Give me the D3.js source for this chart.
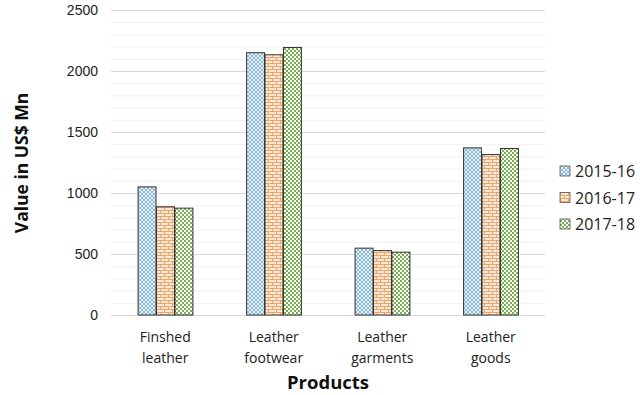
<!DOCTYPE html>
<html><head><meta charset="utf-8">
<script src="https://cdn.jsdelivr.net/npm/d3@7"></script>
<style>body{margin:0;background:#fff}svg{font-family:"Open Sans",Calibri,sans-serif}</style>
</head><body><svg id="c" width="640" height="395"></svg>
<script>
const categories = [["Finshed","leather"],["Leather","footwear"],["Leather","garments"],["Leather","goods"]];
const seriesNames = ["2015-16","2016-17","2017-18"];
const v2015 = [1050, 2150, 548, 1370];
const v2016 = [887, 2133, 528, 1315];
const v2017 = [876, 2193, 515, 1365];
const yTicks = [0,500,1000,1500,2000,2500];
const values = [v2015, v2016, v2017];

const svg = d3.select("#c");
const m = {l:111, r:545, t:10, b:315};
const x = d3.scaleBand().domain(d3.range(categories.length)).range([m.l, m.r]).paddingInner(0.49).paddingOuter(0.245);
const xs = d3.scaleBand().domain(d3.range(seriesNames.length)).range([0, x.bandwidth()]);
const y = d3.scaleLinear().domain([0,2500]).range([m.b, m.t]);

const defs = svg.append("defs");
let p = defs.append("pattern").attr("id","p0").attr("patternUnits","userSpaceOnUse").attr("width",4).attr("height",4);
p.append("rect").attr("width",4).attr("height",4).attr("fill","#e3eff6");
p.append("path").attr("d","M0,0L4,4M4,0L0,4").attr("stroke","#86b3cc").attr("stroke-width",0.9);
p = defs.append("pattern").attr("id","p1").attr("patternUnits","userSpaceOnUse").attr("width",8).attr("height",6);
p.append("rect").attr("width",8).attr("height",6).attr("fill","#fbe7d6");
p.append("path").attr("d","M0,0.5H8M0,3.5H8M0.5,0V3M4.5,3V6").attr("stroke","#e9a56a").attr("stroke-width",1);
p = defs.append("pattern").attr("id","p2").attr("patternUnits","userSpaceOnUse").attr("width",4).attr("height",4);
p.append("rect").attr("width",4).attr("height",4).attr("fill","#ffffff");
p.append("rect").attr("width",2).attr("height",2).attr("fill","#77b04e");
p.append("rect").attr("x",2).attr("y",2).attr("width",2).attr("height",2).attr("fill","#77b04e");

const minor = d3.range(100, 2501, 100).filter(d => d % 500 !== 0);
svg.append("g").selectAll("line").data(minor).join("line")
  .attr("x1", m.l).attr("x2", m.r).attr("y1", d=>y(d)+0.5).attr("y2", d=>y(d)+0.5)
  .attr("stroke","#f0f0f0").attr("stroke-width",1);
const ya = d3.axisLeft(y).tickValues(yTicks).tickFormat(d3.format("d")).tickSize(-(m.r-m.l)).tickPadding(13);
const gy = svg.append("g").attr("transform",`translate(${m.l},0)`).call(ya);
gy.select(".domain").remove();
gy.selectAll(".tick line").attr("stroke","#d9d9d9");
gy.selectAll(".tick text").attr("font-size",14).attr("fill","#222");

values.forEach((vals, si) => {
  svg.append("g").selectAll("rect").data(vals).join("rect")
    .attr("x", (d,i)=> x(i)+xs(si)+0.5)
    .attr("y", d=> y(d))
    .attr("width", xs.bandwidth()-0.5)
    .attr("height", d=> y(0)-y(d))
    .attr("fill", `url(#p${si})`)
    .attr("stroke","#333").attr("stroke-width",1);
});

const xl = svg.append("g");
categories.forEach((c,i) => {
  const t = xl.append("text").attr("x", x(i)+x.bandwidth()/2).attr("text-anchor","middle")
    .attr("font-size",14).attr("fill","#222");
  c.forEach((line,j)=> t.append("tspan").attr("x", x(i)+x.bandwidth()/2).attr("y", 342 + j*21).text(line));
});

svg.append("text").attr("x", 328).attr("y", 389).attr("text-anchor","middle")
  .attr("font-size",18.5).attr("font-weight","bold").attr("fill","#111").text("Products");
svg.append("text").attr("transform","translate(28,163) rotate(-90)").attr("text-anchor","middle")
  .attr("font-size",17.5).attr("font-weight","bold").attr("fill","#111").text("Value in US$ Mn");

const lg = svg.append("g");
seriesNames.forEach((s,i)=>{
  const yy = 171 + i*26.5;
  lg.append("rect").attr("x",560).attr("y",yy-5).attr("width",10).attr("height",10)
    .attr("fill",`url(#p${i})`).attr("stroke","#555").attr("stroke-width",0.8);
  lg.append("text").attr("x",575).attr("y",yy+6).attr("font-size",16).attr("fill","#222").text(s);
});
</script></body></html>
